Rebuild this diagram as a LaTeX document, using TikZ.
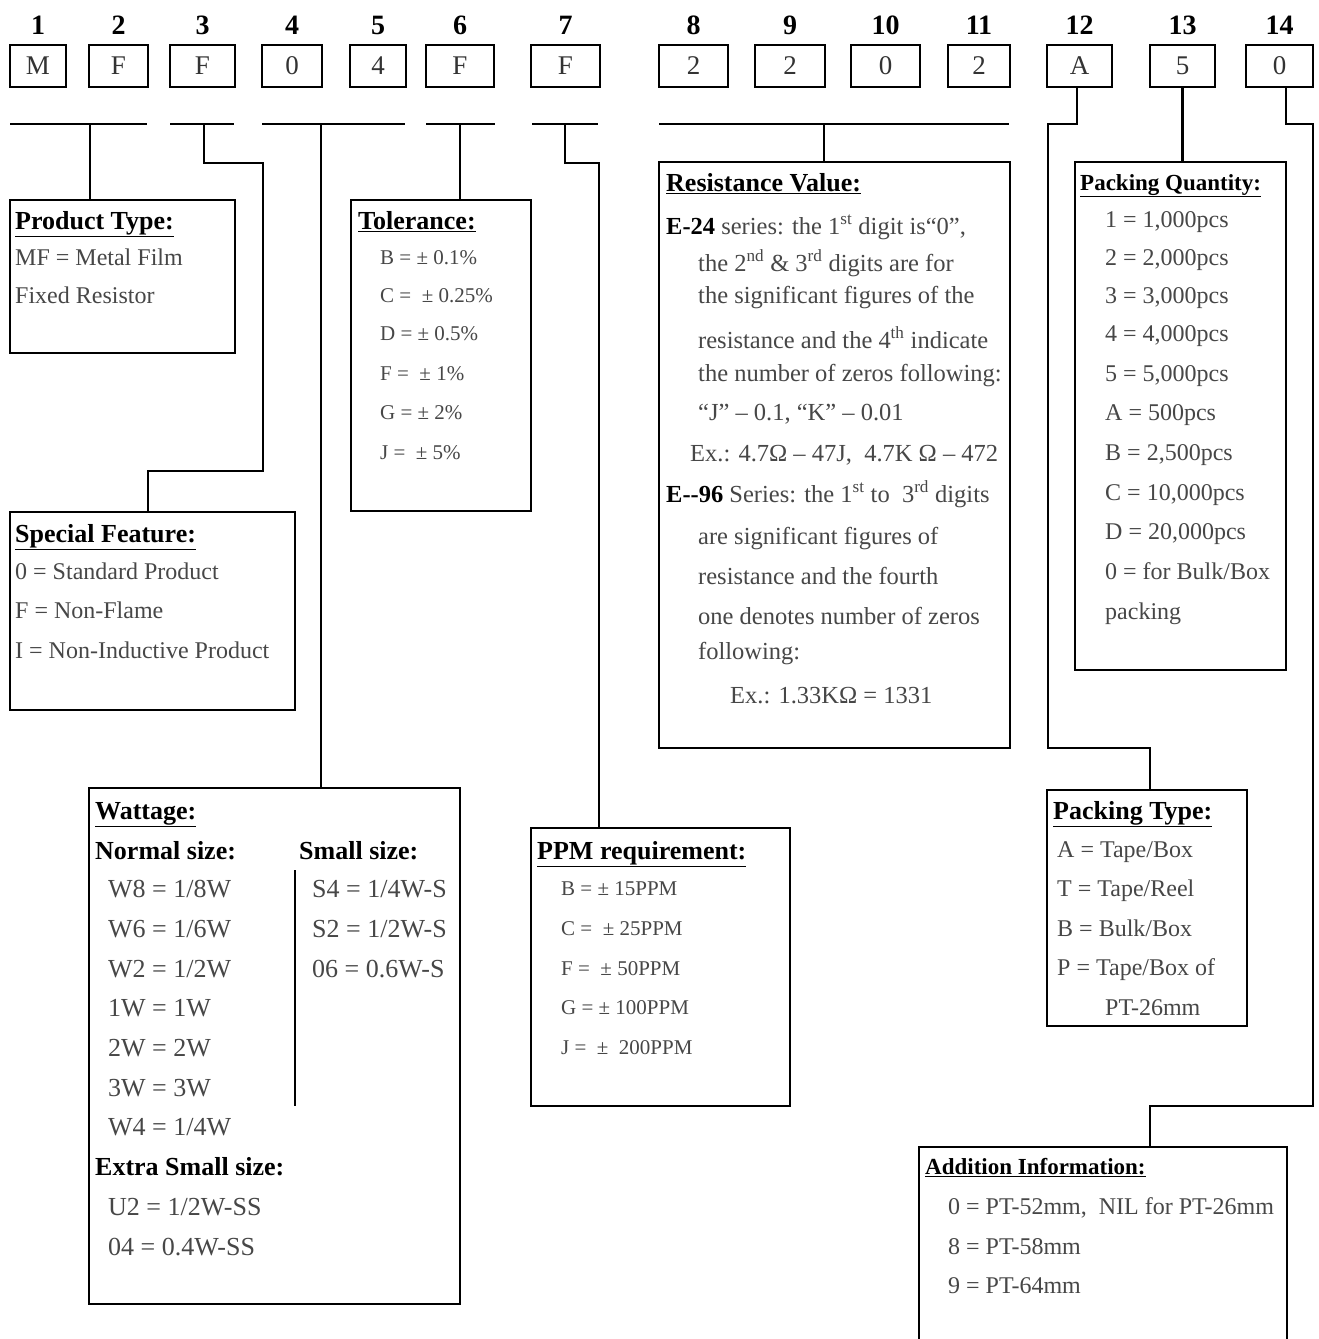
\documentclass[tikz,border=0pt]{standalone}
\usepackage{fontspec}
\setmainfont{Liberation Serif}
\usetikzlibrary{calc}
\tikzset{
  frame/.style={draw, line width=2.4pt, inner sep=0pt, outer sep=0pt},
  digit/.style={draw, line width=2.4pt, inner sep=0pt, outer sep=0pt, text=black!80, font=\fontsize{27}{30}\selectfont},
  num/.style={inner sep=0pt, font=\fontsize{28}{30}\selectfont\bfseries},
  conn/.style={line width=2.4pt},
  ttl/.style={anchor=base west, inner sep=0pt, font=\fontsize{26}{30}\selectfont\bfseries},
  ttls/.style={anchor=base west, inner sep=0pt, font=\fontsize{23}{27}\selectfont\bfseries},
  itm/.style={anchor=base west, inner sep=0pt, text=black!72, font=\fontsize{24}{28}\selectfont},
  itms/.style={anchor=base west, inner sep=0pt, text=black!72, font=\fontsize{21}{25}\selectfont},
  itml/.style={anchor=base west, inner sep=0pt, text=black!72, font=\fontsize{26}{30}\selectfont},
  itmr/.style={anchor=base west, inner sep=0pt, text=black!72, font=\fontsize{24.5}{28}\selectfont},
  hd/.style={anchor=base west, inner sep=0pt, font=\fontsize{26}{30}\selectfont\bfseries},
}
\begin{document}
\begin{tikzpicture}[x=1pt,y=-1pt]
\fill[white] (0,0) rectangle (1318,1339);
\useasboundingbox (0,0) rectangle (1318,1339);

% top row
\foreach \i/\x/\w/\t in {1/38/56/M, 2/118.5/59/F, 3/202.5/65/F, 4/292/60/0, 5/378/56/4, 6/460/68/F, 7/565.5/69/F, 8/693.5/69/2, 9/790/70/2, 10/885.5/69/0, 11/979/62/2, 12/1079.5/65/A, 13/1182.5/65/5, 14/1279.5/67/0}{
  \node[digit, minimum width=\w pt, minimum height=42pt] (d\i) at (\x,66) {\t};
  \node[num] (n\i) at (\x,25) {\i};
}

% boxes
\node[frame, minimum width=225pt, minimum height=153pt] (ptype) at (122.5,276.5) {};
\node[frame, minimum width=180pt, minimum height=311pt] (tol) at (441,355.5) {};
\node[frame, minimum width=285pt, minimum height=198pt] (sfeat) at (152.5,611) {};
\node[frame, minimum width=351pt, minimum height=586pt] (res) at (834.5,455) {};
\node[frame, minimum width=211pt, minimum height=508pt] (pq) at (1180.5,416) {};
\node[frame, minimum width=371pt, minimum height=516pt] (watt) at (274.5,1046) {};
\node[frame, minimum width=259pt, minimum height=278pt] (ppm) at (660.5,967) {};
\node[frame, minimum width=200pt, minimum height=236pt] (ptyp) at (1147,908) {};
\node[inner sep=0pt, outer sep=0pt, minimum width=368pt, minimum height=196pt] (add) at (1103,1245) {};
\draw[conn] (add.south west) |- (add.north east) -- (add.south east);

% bars and connectors
\coordinate (aL) at (10,124); \coordinate (aR) at (147,124); \coordinate (aM) at (90,124);
\draw[conn] (aL) -- (aR);
\draw[conn] (aM) -- (aM |- ptype.north);

\coordinate (bL) at (170,124); \coordinate (bR) at (234,124); \coordinate (bM) at (204,124);
\coordinate (bK) at (148,471);
\draw[conn] (bL) -- (bR);
\draw[conn] (bM) -- (204,163) -- (263,163) -- (263,471) -- (bK) -- (bK |- sfeat.north);

\coordinate (cL) at (262,124); \coordinate (cR) at (405,124); \coordinate (cM) at (321,124);
\draw[conn] (cL) -- (cR);
\draw[conn] (cM) -- (cM |- watt.north);

\coordinate (eL) at (426,124); \coordinate (eR) at (495,124); \coordinate (eM) at (460,124);
\draw[conn] (eL) -- (eR);
\draw[conn] (eM) -- (eM |- tol.north);

\coordinate (fL) at (532,124); \coordinate (fR) at (598,124); \coordinate (fM) at (565,124);
\coordinate (fK) at (599,163);
\draw[conn] (fL) -- (fR);
\draw[conn] (fM) -- (565,163) -- (fK) -- (fK |- ppm.north);

\coordinate (gL) at (659,124); \coordinate (gR) at (1009,124); \coordinate (gM) at (824,124);
\draw[conn] (gL) -- (gR);
\draw[conn] (gM) -- (gM |- res.north);

\coordinate (hA) at (1077,124); \coordinate (hK) at (1150,748);
\draw[conn] (d12.south -| hA) -- (hA) -- (1048,124) -- (1048,748) -- (hK) -- (hK |- ptyp.north);

\draw[conn] (d13.south) -- (d13.south |- pq.north);

\coordinate (kA) at (1286,124); \coordinate (kK) at (1150,1106);
\draw[conn] (d14.south -| kA) -- (kA) -- (1313,124) -- (1313,1106) -- (kK) -- (kK |- add.north);

% Product Type
\node[ttl] (pt0) at (15,229) {\underline{Product Type:}};
\node[itm] (pt1) at (15,265) {MF = Metal Film};
\node[itm] (pt2) at (15,303) {Fixed Resistor};

% Tolerance
\node[ttl] (to0) at (358,229) {\underline{Tolerance:}};
\node[itms] (to1) at (380,264) {B = ± 0.1\%};
\node[itms] (to2) at (380,302) {C = \ ± 0.25\%};
\node[itms] (to3) at (380,340) {D = ± 0.5\%};
\node[itms] (to4) at (380,380) {F = \ ± 1\%};
\node[itms] (to5) at (380,419) {G = ± 2\%};
\node[itms] (to6) at (380,459) {J = \ ± 5\%};

% Special Feature
\node[ttl] (sf0) at (15,542) {\underline{Special Feature:}};
\node[itm] (sf1) at (15,579) {0 = Standard Product};
\node[itm] (sf2) at (15,618) {F = Non-Flame};
\node[itm] (sf3) at (15,658) {I = Non-Inductive Product};

% Resistance Value
\node[ttl] (rv0) at (666,191) {\underline{Resistance Value:}};
\node[itmr] (rv1) at (666,234) {\textbf{\color{black}E-24} series: the 1\textsuperscript{st} digit is“0”,};
\node[itmr] (rv2) at (698,271) {the 2\textsuperscript{nd} \& 3\textsuperscript{rd} digits are for};
\node[itmr] (rv3) at (698,303) {the significant figures of the};
\node[itmr] (rv4) at (698,348) {resistance and the 4\textsuperscript{th} indicate};
\node[itmr] (rv5) at (698,381) {the number of zeros following:};
\node[itmr] (rv6) at (698,420) {“J” – 0.1, “K” – 0.01};
\node[itmr] (rv7) at (690,461) {Ex.: 4.7Ω – 47J, \ 4.7K Ω – 472};
\node[itmr] (rv8) at (666,502) {\textbf{\color{black}E-{}-96} Series: the 1\textsuperscript{st} to \ 3\textsuperscript{rd} digits};
\node[itmr] (rv9) at (698,544) {are significant figures of};
\node[itmr] (rv10) at (698,584) {resistance and the fourth};
\node[itmr] (rv11) at (698,624) {one denotes number of zeros};
\node[itmr] (rv12) at (698,659) {following:};
\node[itmr] (rv13) at (730,703) {Ex.: 1.33KΩ = 1331};

% Packing Quantity
\node[ttls] (pq0) at (1080,190) {\underline{Packing Quantity:}};
\node[itm] (pq1) at (1105,227) {1 = 1,000pcs};
\node[itm] (pq2) at (1105,265) {2 = 2,000pcs};
\node[itm] (pq3) at (1105,303) {3 = 3,000pcs};
\node[itm] (pq4) at (1105,341) {4 = 4,000pcs};
\node[itm] (pq5) at (1105,381) {5 = 5,000pcs};
\node[itm] (pq6) at (1105,420) {A = 500pcs};
\node[itm] (pq7) at (1105,460) {B = 2,500pcs};
\node[itm] (pq8) at (1105,500) {C = 10,000pcs};
\node[itm] (pq9) at (1105,539) {D = 20,000pcs};
\node[itm] (pq10) at (1105,579) {0 = for Bulk/Box};
\node[itm] (pq11) at (1105,619) {packing};

% Wattage
\node[ttl] (wa0) at (95,819) {\underline{Wattage:}};
\node[hd] (wa1) at (95,859) {Normal size:};
\node[hd] (wa2) at (299,859) {Small size:};
\node[itml] (wa3) at (108,897) {W8 = 1/8W};
\node[itml] (wa4) at (108,937) {W6 = 1/6W};
\node[itml] (wa5) at (108,977) {W2 = 1/2W};
\node[itml] (wa6) at (108,1016) {1W = 1W};
\node[itml] (wa7) at (108,1056) {2W = 2W};
\node[itml] (wa8) at (108,1096) {3W = 3W};
\node[itml] (wa9) at (108,1135) {W4 = 1/4W};
\node[itml] (wa10) at (312,897) {S4 = 1/4W-S};
\node[itml] (wa11) at (312,937) {S2 = 1/2W-S};
\node[itml] (wa12) at (312,977) {06 = 0.6W-S};
\node[hd] (wa13) at (95,1175) {Extra Small size:};
\node[itml] (wa14) at (108,1215) {U2 = 1/2W-SS};
\node[itml] (wa15) at (108,1255) {04 = 0.4W-SS};
\coordinate (wv1) at (295,870); \coordinate (wv2) at (295,1106);
\draw[conn] (wv1) -- (wv2);

% PPM
\node[ttl] (pp0) at (537,859) {\underline{PPM requirement:}};
\node[itms] (pp1) at (561,895) {B = ± 15PPM};
\node[itms] (pp2) at (561,935) {C = \ ± 25PPM};
\node[itms] (pp3) at (561,975) {F = \ ± 50PPM};
\node[itms] (pp4) at (561,1014) {G = ± 100PPM};
\node[itms] (pp5) at (561,1054) {J = \ ± \ 200PPM};

% Packing Type
\node[ttl] (pk0) at (1053,819) {\underline{Packing Type:}};
\node[itm] (pk1) at (1057,857) {A = Tape/Box};
\node[itm] (pk2) at (1057,896) {T = Tape/Reel};
\node[itm] (pk3) at (1057,936) {B = Bulk/Box};
\node[itm] (pk4) at (1057,975) {P = Tape/Box of};
\node[itm] (pk5) at (1105,1015) {PT-26mm};

% Addition Information
\node[ttls] (ad0) at (925,1174) {\underline{Addition Information:}};
\node[itm] (ad1) at (948,1214) {0 = PT-52mm, \ NIL for PT-26mm};
\node[itm] (ad2) at (948,1254) {8 = PT-58mm};
\node[itm] (ad3) at (948,1293) {9 = PT-64mm};
\end{tikzpicture}
\end{document}
